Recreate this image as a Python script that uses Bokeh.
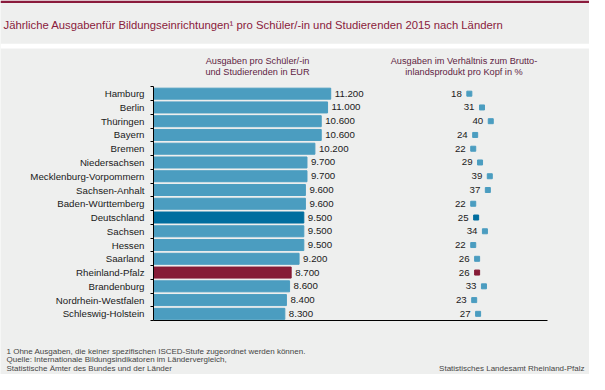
from bokeh.plotting import figure
from bokeh.models import ColumnDataSource, Range1d, FixedTicker
from bokeh.core.properties import value
from bokeh.embed import file_html
from bokeh.resources import INLINE

# ---- data ----
laender = ["Hamburg", "Berlin", "Thüringen", "Bayern", "Bremen", "Niedersachsen",
           "Mecklenburg-Vorpommern", "Sachsen-Anhalt", "Baden-Württemberg", "Deutschland",
           "Sachsen", "Hessen", "Saarland", "Rheinland-Pfalz", "Brandenburg",
           "Nordrhein-Westfalen", "Schleswig-Holstein"]
ausgaben_eur = [11200, 11000, 10600, 10600, 10200, 9700, 9700, 9600, 9600, 9500,
                9500, 9500, 9200, 8700, 8600, 8400, 8300]
anteil_bip = [18, 31, 40, 24, 22, 29, 39, 37, 22, 25, 34, 22, 26, 26, 33, 23, 27]

title_text = "Jährliche Ausgabenfür Bildungseinrichtungen¹ pro Schüler/-in und Studierenden 2015 nach Ländern"
header1 = ["Ausgaben pro Schüler/-in", "und Studierenden in EUR"]
header2 = ["Ausgaben im Verhältnis zum Brutto-", "inlandsprodukt pro Kopf in %"]
footnotes = ["1 Ohne Ausgaben, die keiner spezifischen ISCED-Stufe zugeordnet werden können.",
             "Quelle: Internationale Bildungsindikatoren im Ländervergleich,",
             "Statistische Ämter des Bundes und der Länder"]
source_right = "Statistisches Landesamt Rheinland-Pfalz"

# ---- styles / layout ----
FONT = "Liberation Sans"
BG = "#eeefee"
C_BAR = "#4b9dc0"
C_DE = "#006e9f"
C_RP = "#861c36"
C_TITLE = "#8a1b3c"
C_HEAD = "#5e2443"
C_TXT = "#1a1a1a"
C_FOOT = "#454545"

W, H = 589, 374
X0 = 153            # pixel of 0 EUR / value axis
EUR_PER_PX = 63.2   # horizontal scale of the bar chart
PLOT_W = 394        # length of the bottom axis line in px
PCT0 = 451.3        # pixel of 0 % in the right column
PCT_PX = 0.974      # pixels per percentage point
Y_TOP = 86.3        # pixel of the top row boundary
ROW = 13.76         # pixel height of a row

n = len(laender)
ys = list(range(n))
colors = [C_DE if l == "Deutschland" else C_RP if l == "Rheinland-Pfalz" else C_BAR for l in laender]
eur_lbl = [f"{v:,}".replace(",", ".") for v in ausgaben_eur]
pct_lbl = [str(v) for v in anteil_bip]
src = ColumnDataSource(dict(y=ys, land=laender, eur=ausgaben_eur, pct=anteil_bip,
                            color=colors, eur_lbl=eur_lbl, pct_lbl=pct_lbl))

p = figure(width=W, height=H, output_backend="svg", toolbar_location=None,
           x_range=Range1d(-X0 * EUR_PER_PX, (W - X0) * EUR_PER_PX),
           y_range=Range1d((H - Y_TOP) / ROW - 0.5, -Y_TOP / ROW - 0.5),
           min_border=0)
p.extra_x_ranges = {"pct": Range1d(-PCT0 / PCT_PX, (W - PCT0) / PCT_PX), "px": Range1d(0, W)}
p.extra_y_ranges = {"px": Range1d(H, 0)}
p.background_fill_color = BG
p.border_fill_color = BG
p.outline_line_color = None
p.grid.visible = False

# left (category) axis, placed at 0 EUR, ticks on row boundaries
yax = p.yaxis[0]
yax.fixed_location = 0
yax.bounds = (-0.5, n - 0.5)
yax.ticker = FixedTicker(ticks=ys, minor_ticks=[i - 0.5 for i in range(n + 1)])
yax.major_label_overrides = {i: l for i, l in zip(ys, laender)}
yax.major_tick_line_color = None
yax.major_tick_out = 0
yax.major_tick_in = 0
yax.minor_tick_line_color = "black"
yax.minor_tick_out = 3
yax.minor_tick_in = 0
yax.axis_line_color = "black"
yax.major_label_standoff = 6
yax.major_label_text_font = FONT
yax.major_label_text_font_size = "9.7px"
yax.major_label_text_color = C_TXT

# bottom axis line only
xax = p.xaxis[0]
xax.fixed_location = n - 0.5
xax.bounds = (0, PLOT_W * EUR_PER_PX)
xax.ticker = FixedTicker(ticks=[])
xax.major_tick_line_color = None
xax.minor_tick_line_color = None
xax.axis_line_color = "black"

# frame decoration (pixel space)
p.quad(left=[0], right=[W], top=[0], bottom=[2.5], color=C_TITLE, line_color=None,
       x_range_name="px", y_range_name="px")
p.quad(left=[0], right=[W], top=[43.2], bottom=[48], color="white", line_color=None,
       x_range_name="px", y_range_name="px")


def txt(x, y, text, size, color, align="left"):
    p.text(x=[x], y=[y], text=[text], text_align=align, text_baseline="middle",
           text_font=value(FONT), text_font_size=size, text_color=color,
           x_range_name="px", y_range_name="px")


txt(3, 24, title_text, "11.3px", C_TITLE)
txt(257, 60.4, header1[0], "9.2px", C_HEAD, "center")
txt(257, 71, header1[1], "9.2px", C_HEAD, "center")
txt(463.5, 60.4, header2[0], "9.2px", C_HEAD, "center")
txt(463.5, 71, header2[1], "9.2px", C_HEAD, "center")
for i, f in enumerate(footnotes):
    txt(6, 351 + 8.4 * i, f, "8px", C_FOOT)
txt(584, 367.8, source_right, "8px", C_FOOT, "right")

# bars and values
p.hbar(y="y", left=0, right="eur", height=0.8, color="color", source=src)
p.text(x="eur", y="y", text="eur_lbl", x_offset=4, text_align="left", text_baseline="middle",
       text_font=value(FONT), text_font_size="9.7px", text_color=C_TXT, source=src)

# share of GDP per capita
p.scatter(x="pct", y="y", marker="square", size=5, color="color", x_range_name="pct", source=src)
p.text(x="pct", y="y", text="pct_lbl", x_offset=-7.5, text_align="right", text_baseline="middle",
       text_font=value(FONT), text_font_size="9.7px", text_color=C_TXT,
       x_range_name="pct", source=src)

open("out.html", "w").write(file_html(p, INLINE))
